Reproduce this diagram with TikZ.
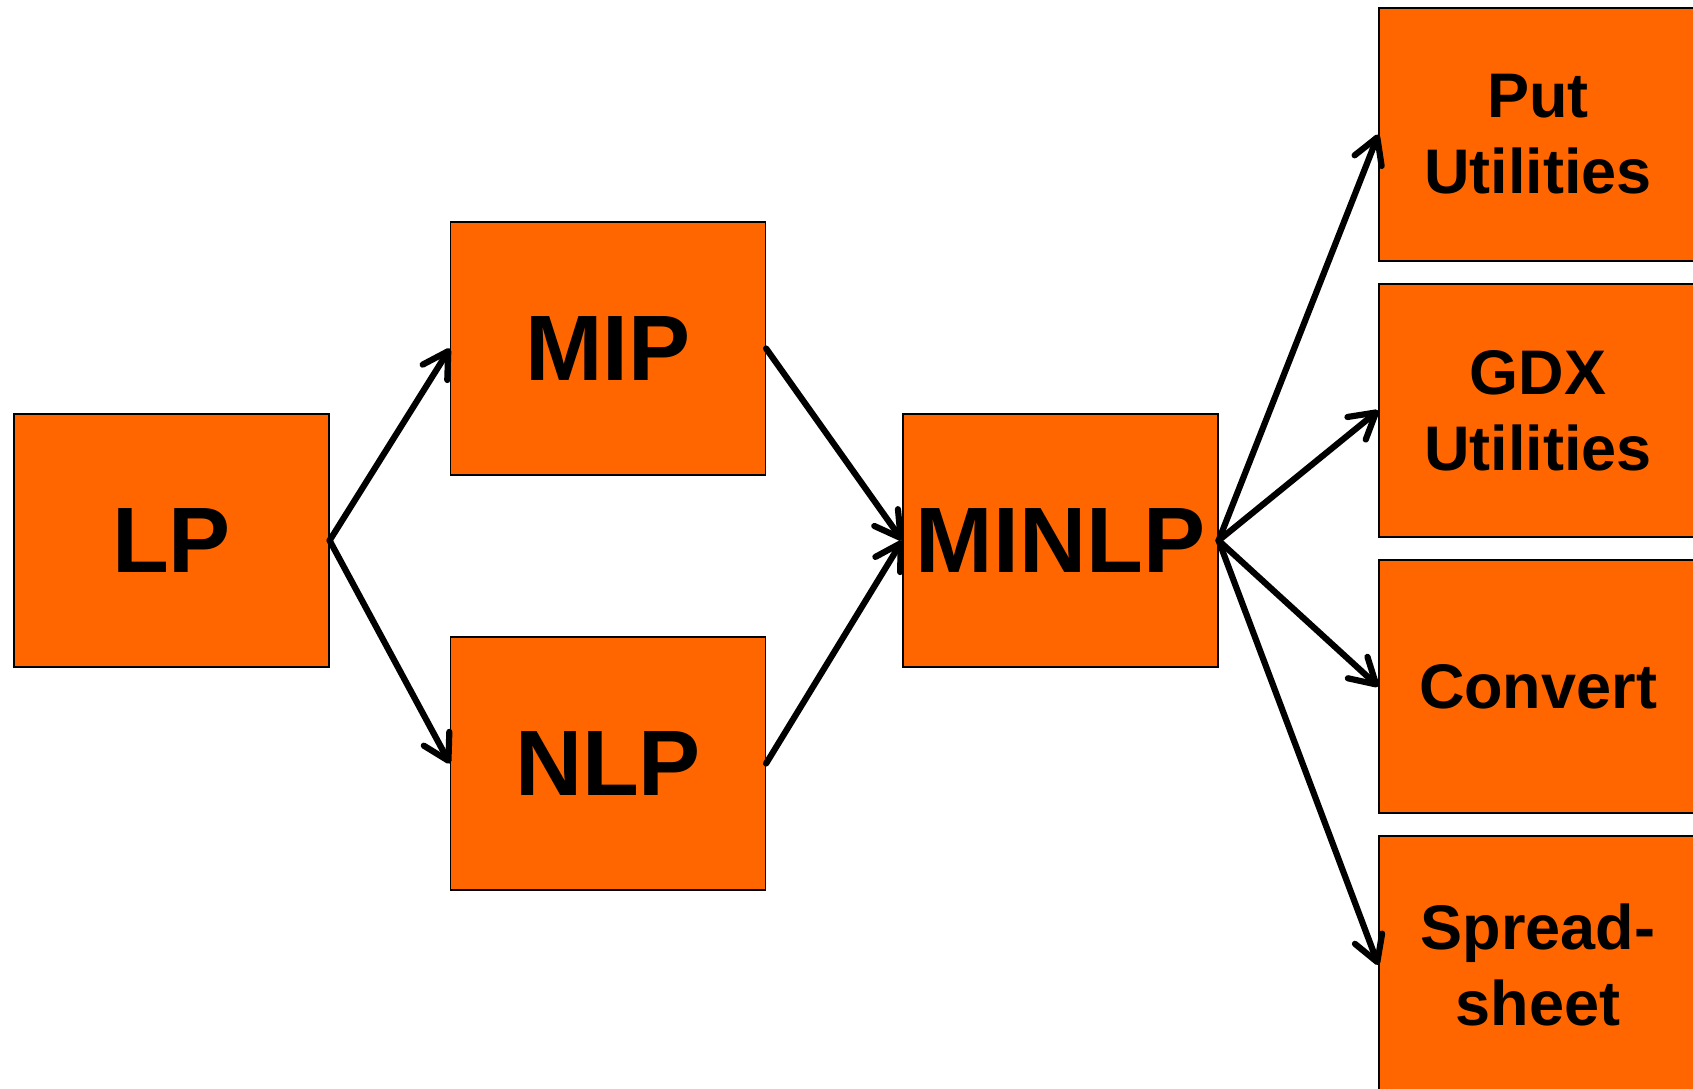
\documentclass[tikz,border=0pt]{standalone}
\usepackage{fontspec}
\setmainfont{Liberation Sans}
\usetikzlibrary{arrows.meta}
\definecolor{boxorange}{HTML}{FF6600}
\begin{document}
\begin{tikzpicture}[x=1pt,y=-1pt,
  box/.style={draw=black, line width=1.2pt, fill=boxorange, inner sep=0pt,
    minimum width=315pt, minimum height=253pt, align=center},
  bigtext/.style={font=\fontsize{93}{108}\selectfont\bfseries},
  smalltext/.style={font=\fontsize{63}{76}\selectfont\bfseries},
  arr/.style={line width=6.2pt, line cap=round, line join=round,
    -{Straight Barb[length=25pt, width=29pt, line cap=round, line join=round]}}
  ]
\useasboundingbox (0,0) rectangle (1693,1088);
\fill[white] (0,0) rectangle (1693,1088);
\node[box, bigtext] (LP) at (171.5,540.5) {LP};
\node[box, bigtext] (MIP) at (608,348.5) {MIP};
\node[box, bigtext] (NLP) at (608,763.5) {NLP};
\node[box, bigtext] (MINLP) at (1060.5,540.5) {MINLP};
\node[box, smalltext, minimum width=318pt] (PUT) at (1538,134.5) {Put\\Utilities};
\node[box, smalltext, minimum width=318pt] (GDX) at (1538,410.5) {GDX\\Utilities};
\node[box, smalltext, minimum width=318pt] (CONV) at (1538,686.5) {Convert};
\node[box, smalltext, minimum width=318pt, minimum height=258pt] (SPR) at (1538,965) {Spread-\\sheet};
\draw[arr] (LP.east) -- (MIP.west);
\draw[arr] (LP.east) -- (NLP.west);
\draw[arr] (MIP.east) -- (MINLP.west);
\draw[arr] (NLP.east) -- (MINLP.west);
\draw[arr] (MINLP.east) -- (PUT.west);
\draw[arr] (MINLP.east) -- (GDX.west);
\draw[arr] (MINLP.east) -- (CONV.west);
\draw[arr] (MINLP.east) -- (SPR.west);
\end{tikzpicture}
\end{document}
